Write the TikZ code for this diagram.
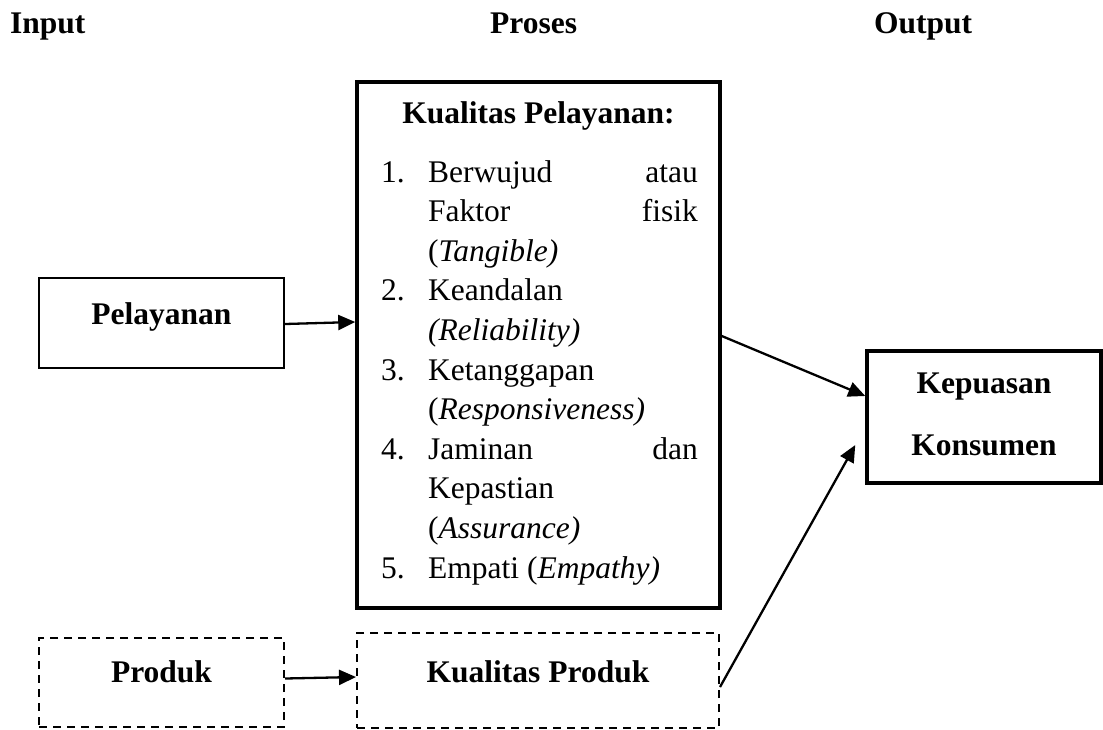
\documentclass[tikz,border=0pt]{standalone}
\usepackage{fontspec}
\setmainfont{Liberation Serif}
\usetikzlibrary{arrows.meta}
\begin{document}
\begin{tikzpicture}[x=1pt,y=-1pt,
  txt/.style={font=\fontsize{31.5}{39.6}\selectfont, inner sep=0pt},
  btxt/.style={font=\fontsize{31.5}{39.6}\selectfont\bfseries, inner sep=0pt},
  dbox/.style={draw, line width=2pt, dash pattern=on 8pt off 6pt, inner sep=0pt},
  conn/.style={line width=2.3pt, -{Triangle[length=17pt,width=15pt]}}
]
\useasboundingbox (0,0) rectangle (1103,729);
% headers
\node[btxt, anchor=base west] (hin) at (10,33) {Input};
\node[btxt, anchor=base west] (hpr) at (490,33) {Proses};
\node[btxt, anchor=base west] (hout) at (874,33) {Output};
% boxes
\node[draw, line width=2pt, inner sep=0pt, minimum width=245pt, minimum height=90pt] (pel) at (161.5,323) {};
\node[draw, line width=3.5pt, inner sep=0pt, minimum width=363pt, minimum height=526pt] (kp) at (538.5,345) {};
\node[draw, line width=3.5pt, inner sep=0pt, minimum width=234pt, minimum height=132pt] (kk) at (984,417) {};
\node[dbox, minimum width=245pt, minimum height=89pt] (pr) at (161.5,682.5) {};
\node[dbox, minimum width=362pt, minimum height=95pt] (kq) at (538,680.5) {};
% box texts
\node[btxt, anchor=base] (tpel) at (161.5,324) {Pelayanan};
\node[btxt, anchor=base] (tpr) at (161.5,682) {Produk};
\node[btxt, anchor=base] (tkq) at (538,682) {Kualitas Produk};
\node[btxt, anchor=base] (tkk1) at (984,393) {Kepuasan};
\node[btxt, anchor=base] (tkk2) at (984,455) {Konsumen};
\node[btxt, anchor=base] (tkp) at (538.5,123) {Kualitas Pelayanan:};
% list
\node[txt, anchor=base west] (n1) at (381,182) {1.};
\node[txt, anchor=base west] (l1a) at (428,182) {Berwujud};
\node[txt, anchor=base east] (l1b) at (698,182) {atau};
\node[txt, anchor=base west] (l2a) at (428,221.6) {Faktor};
\node[txt, anchor=base east] (l2b) at (698,221.6) {fisik};
\node[txt, anchor=base west] (l3) at (428,261.2) {(\textit{Tangible)}};
\node[txt, anchor=base west] (n2) at (381,300.8) {2.};
\node[txt, anchor=base west] (l4) at (428,300.8) {Keandalan};
\node[txt, anchor=base west] (l5) at (428,340.4) {\textit{(Reliability)}};
\node[txt, anchor=base west] (n3) at (381,380) {3.};
\node[txt, anchor=base west] (l6) at (428,380) {Ketanggapan};
\node[txt, anchor=base west] (l7) at (428,419.6) {(\textit{Responsiveness)}};
\node[txt, anchor=base west] (n4) at (381,459.2) {4.};
\node[txt, anchor=base west] (l8a) at (428,459.2) {Jaminan};
\node[txt, anchor=base east] (l8b) at (698,459.2) {dan};
\node[txt, anchor=base west] (l9) at (428,498.8) {Kepastian};
\node[txt, anchor=base west] (l10) at (428,538.4) {(\textit{Assurance)}};
\node[txt, anchor=base west] (n5) at (381,578) {5.};
\node[txt, anchor=base west] (l11) at (428,578) {Empati (\textit{Empathy)}};
% connectors
\draw[conn] ([yshift=-1pt]pel.east) -- ([yshift=23pt]kp.west);
\draw[conn] ([yshift=4pt]pr.east) -- ([yshift=3.5pt]kq.west);
\draw[conn] ([yshift=9pt]kp.east) -- ([yshift=21pt]kk.west);
\draw[conn] ([yshift=-6.5pt]kq.east) -- ([xshift=-10pt,yshift=-28pt]kk.west);
\end{tikzpicture}
\end{document}
